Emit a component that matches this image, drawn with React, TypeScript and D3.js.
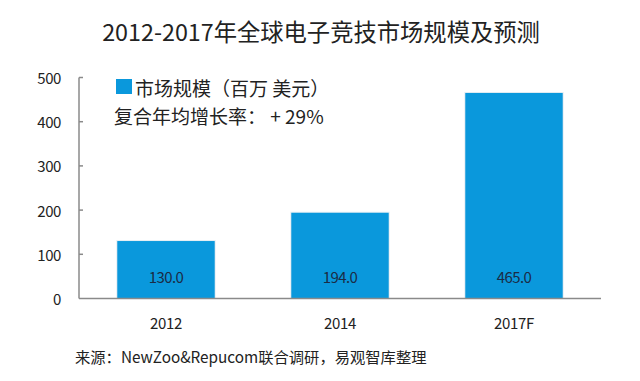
import React from "react";
import * as d3 from "d3";

const categories = ["2012", "2014", "2017F"];
const values = [130.0, 194.0, 465.0];
const yTicks = [0, 100, 200, 300, 400, 500];
const title = "2012-2017年全球电子竞技市场规模及预测";
const legendLabel = "市场规模（百万 美元）";
const cagrLabel = "复合年均增长率： + 29%";
const sourceLabel = "来源：NewZoo&Repucom联合调研，易观智库整理";

const W = 640;
const H = 381;
const left = 79;
const right = 601;
const top = 77.5;
const bottom = 298.5;
const FONT = "'Noto Sans CJK SC', 'Noto Sans', sans-serif";
const BAR = "#0a98dc";

export default function App() {
  const x = d3
    .scaleBand<string>()
    .domain(categories)
    .range([left, right])
    .paddingInner(0.44)
    .paddingOuter(0.22);
  const y = d3.scaleLinear().domain([0, 500]).range([bottom, top]);

  return (
    <svg
      width={W}
      height={H}
      style={{ position: "absolute", left: 0, top: 0, background: "#fff" }}
      fontFamily={FONT}
    >
      <rect width={W} height={H} fill="#fff" />
      <text x={321} y={31} textAnchor="middle" dominantBaseline="central" fontSize={23.3} fill="#222">
        {title}
      </text>

      {categories.map((c, i) => (
        <g key={c}>
          <rect
            x={x(c)! - 1}
            y={y(values[i]) - 1}
            width={x.bandwidth() + 2}
            height={bottom - y(values[i]) + 1}
            fill="#e6eef3"
          />
          <rect
            x={x(c)!}
            y={y(values[i])}
            width={x.bandwidth()}
            height={bottom - y(values[i])}
            fill={BAR}
          />
          <text
            x={x(c)! + x.bandwidth() / 2}
            y={276}
            textAnchor="middle"
            dominantBaseline="central"
            fontSize={15}
            letterSpacing={-0.6}
            fill="#1b2b45"
          >
            {values[i].toFixed(1)}
          </text>
          <text
            x={x(c)! + x.bandwidth() / 2}
            y={322}
            textAnchor="middle"
            dominantBaseline="central"
            fontSize={15}
            letterSpacing={-0.3}
            fill="#222"
          >
            {c}
          </text>
        </g>
      ))}

      <line x1={left} x2={left} y1={top} y2={bottom} stroke="#8a8a8a" strokeWidth={1.5} />
      <line x1={left} x2={right} y1={bottom} y2={bottom} stroke="#8a8a8a" strokeWidth={1.5} />
      {yTicks.map((t) => (
        <g key={t}>
          {t > 0 && (
            <line x1={left} x2={left + 4} y1={y(t)} y2={y(t)} stroke="#8a8a8a" strokeWidth={1.5} />
          )}
          <text
            x={61}
            y={y(t)}
            textAnchor="end"
            dominantBaseline="central"
            fontSize={15}
            letterSpacing={-0.4}
            fill="#222"
          >
            {t}
          </text>
        </g>
      ))}

      <rect x={116} y={79} width={16} height={15} fill={BAR} />
      <text x={135} y={87} dominantBaseline="central" fontSize={19} fill="#222">
        {legendLabel}
      </text>
      <text x={114} y={115} dominantBaseline="central" fontSize={19} fill="#222">
        {cagrLabel}
      </text>

      <text x={75} y={356} dominantBaseline="central" fontSize={15.3} fill="#222">
        {sourceLabel}
      </text>
    </svg>
  );
}
